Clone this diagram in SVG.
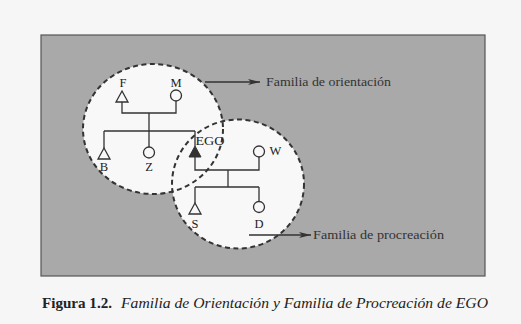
<svg xmlns="http://www.w3.org/2000/svg" width="521" height="324" viewBox="0 0 521 324">
<style>
.lbl{font-family:"Liberation Serif","DejaVu Serif","Times New Roman",serif;font-size:12.5px;fill:#222;text-anchor:middle}
.txt{font-family:"Liberation Serif","DejaVu Serif","Times New Roman",serif;font-size:13.5px;fill:#333}
.cap{font-family:"Liberation Serif","DejaVu Serif","Times New Roman",serif;font-size:14px;fill:#222}
.ln{stroke:#333;stroke-width:1.3;fill:none}
.sym{stroke:#333;stroke-width:1.3;fill:#f8f8f8}
.dash{fill:none;stroke:#333;stroke-width:2;stroke-dasharray:5,3.5}
</style>
<defs>
<marker id="ah" viewBox="0 0 12 6" refX="12" refY="3" markerWidth="12" markerHeight="6" markerUnits="userSpaceOnUse" orient="auto">
<path d="M0,0 L12,3 L0,6 L3,3 Z" fill="#333"/>
</marker>
</defs>
<rect width="521" height="324" fill="#f6f6f6"/>
<rect x="41" y="35" width="444" height="241" fill="#a9a9a9" stroke="#555" stroke-width="1.2"/>
<g id="families">
<ellipse cx="153" cy="129" rx="70" ry="65" fill="#f8f8f8"/>
<ellipse cx="238" cy="184" rx="66" ry="64.5" fill="#f8f8f8"/>
<ellipse cx="153" cy="129" rx="70" ry="65" class="dash"/>
<ellipse cx="238" cy="184" rx="66" ry="64.5" class="dash"/>
</g>
<g id="connectors">
<path class="ln" d="M122,102 V113 H176 V101 M149,113 V131 M104,131 H195 M104,131 V148 M149,131 V147 M195,131 V146"/>
<path class="ln" d="M195,157 V170 H259 V157 M228,170 V187 M195,187 H259 M195,187 V203 M259,187 V201"/>
<line x1="205" y1="82" x2="260" y2="82" class="ln" marker-end="url(#ah)"/>
<line x1="249" y1="235" x2="311" y2="235" class="ln" marker-end="url(#ah)"/>
</g>
<g id="F"><polygon class="sym" points="122,91 128,102 116,102"/><text class="lbl" x="123" y="87">F</text></g>
<g id="M"><circle class="sym" cx="176" cy="95.5" r="5.5"/><text class="lbl" x="176" y="87">M</text></g>
<g id="B"><polygon class="sym" points="104,148 110,159 98,159"/><text class="lbl" x="104" y="171">B</text></g>
<g id="Z"><circle class="sym" cx="149" cy="152.5" r="5.5"/><text class="lbl" x="149" y="171">Z</text></g>
<g id="EGO"><polygon points="195,146 201,157 189,157" fill="#333" stroke="#333" stroke-width="1"/><text class="lbl" x="210" y="145" textLength="29" lengthAdjust="spacingAndGlyphs">EGO</text></g>
<g id="W"><circle class="sym" cx="259" cy="151.5" r="5.5"/><text class="lbl" x="275.5" y="155">W</text></g>
<g id="S"><polygon class="sym" points="195,203 201,214 189,214"/><text class="lbl" x="195" y="228">S</text></g>
<g id="D"><circle class="sym" cx="259" cy="207" r="5.5"/><text class="lbl" x="259" y="228">D</text></g>
<text class="txt" x="266" y="86" textLength="125" lengthAdjust="spacingAndGlyphs">Familia de orientación</text>
<text class="txt" x="313" y="239" textLength="131" lengthAdjust="spacingAndGlyphs">Familia de procreación</text>
<text class="cap" x="42" y="308" font-weight="bold" textLength="70" lengthAdjust="spacingAndGlyphs">Figura 1.2.</text>
<text class="cap" x="121" y="308" font-style="italic" textLength="367" lengthAdjust="spacingAndGlyphs">Familia de Orientación y Familia de Procreación de EGO</text>
</svg>
